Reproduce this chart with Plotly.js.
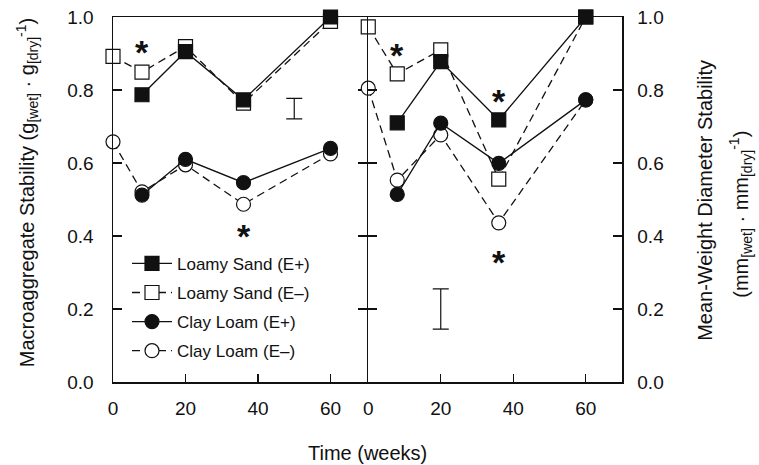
<!DOCTYPE html>
<html>
<head>
<meta charset="utf-8">
<script src="https://cdn.plot.ly/plotly-3.0.1.min.js"></script>
<style>html,body{margin:0;padding:0;background:#fff;}#chart{width:759px;height:465px;}</style>
</head>
<body>
<div id="chart"></div>
<script>
// Time points (weeks)
const weeksPlus = [8, 20, 36, 60];
const weeksMinus = [0, 8, 20, 36, 60];

// Left panel: Macroaggregate stability
const macroLoamyPlus = [0.787, 0.905, 0.773, 1.0];
const macroLoamyMinus = [0.892, 0.849, 0.919, 0.764, 0.988];
const macroClayPlus = [0.512, 0.610, 0.546, 0.640];
const macroClayMinus = [0.658, 0.521, 0.595, 0.487, 0.625];

// Right panel: Mean-weight diameter stability
const mwdLoamyPlus = [0.710, 0.878, 0.718, 1.0];
const mwdLoamyMinus = [0.973, 0.844, 0.910, 0.556, 1.0];
const mwdClayPlus = [0.514, 0.709, 0.599, 0.773];
const mwdClayMinus = [0.805, 0.553, 0.677, 0.436, 0.773];

// Error bars
const errMacroX = [50], errMacroY = [0.749], errMacroHalf = [0.028];
const errMwdX = [20], errMwdY = [0.200], errMwdHalf = [0.055];

// Significance asterisks
const starMacroX = [8, 36], starMacroY = [0.921, 0.416];
const starMwdX = [8, 36, 36], starMwdY = [0.912, 0.786, 0.345];

const seriesNames = ['Loamy Sand (E+)', 'Loamy Sand (E\u2013)', 'Clay Loam (E+)', 'Clay Loam (E\u2013)'];

const FONT = 'Liberation Sans, Arial, Helvetica, sans-serif';
const BLK = '#111';
const LW = 1.3;
const MS = 14;
const DASH = '8px,5px';

function mk(name, x, y, xa, ya, filled, symbol, dashed, show, rank, grp) {
  return {
    type: 'scatter', mode: 'lines+markers', name: name, x: x, y: y,
    xaxis: xa, yaxis: ya, showlegend: show, legendrank: rank, legendgroup: grp,
    line: {color: BLK, width: LW, dash: dashed ? DASH : 'solid'},
    marker: {symbol: symbol, size: MS, color: filled ? BLK : '#fff', line: {color: BLK, width: 1.2}},
    cliponaxis: false
  };
}

const traces = [
  mk(seriesNames[1], weeksMinus, macroLoamyMinus, 'x', 'y', false, 'square', true, true, 2, 'b'),
  mk(seriesNames[3], weeksMinus, macroClayMinus, 'x', 'y', false, 'circle', true, true, 4, 'd'),
  mk(seriesNames[0], weeksPlus, macroLoamyPlus, 'x', 'y', true, 'square', false, true, 1, 'a'),
  mk(seriesNames[2], weeksPlus, macroClayPlus, 'x', 'y', true, 'circle', false, true, 3, 'c'),
  mk(seriesNames[1], weeksMinus, mwdLoamyMinus, 'x2', 'y2', false, 'square', true, false, 2, 'b'),
  mk(seriesNames[3], weeksMinus, mwdClayMinus, 'x2', 'y2', false, 'circle', true, false, 4, 'd'),
  mk(seriesNames[0], weeksPlus, mwdLoamyPlus, 'x2', 'y2', true, 'square', false, false, 1, 'a'),
  mk(seriesNames[2], weeksPlus, mwdClayPlus, 'x2', 'y2', true, 'circle', false, false, 3, 'c'),
  {type: 'scatter', mode: 'markers', x: errMacroX, y: errMacroY, xaxis: 'x', yaxis: 'y', showlegend: false,
   marker: {size: 1, opacity: 0}, error_y: {type: 'data', array: errMacroHalf, visible: true, color: BLK, thickness: 1.2, width: 8}},
  {type: 'scatter', mode: 'markers', x: errMwdX, y: errMwdY, xaxis: 'x2', yaxis: 'y2', showlegend: false,
   marker: {size: 1, opacity: 0}, error_y: {type: 'data', array: errMwdHalf, visible: true, color: BLK, thickness: 1.2, width: 8}}
];

const STAR = {family: FONT, size: 34, color: BLK};
const annotations = [];
starMacroX.forEach((x, i) => annotations.push({x: x, y: starMacroY[i], xref: 'x', yref: 'y', text: '<b>*</b>', showarrow: false, yshift: -6, font: STAR}));
starMwdX.forEach((x, i) => annotations.push({x: x, y: starMwdY[i], xref: 'x2', yref: 'y2', text: '<b>*</b>', showarrow: false, yshift: -6, font: STAR}));

const TF = {family: FONT, size: 20, color: BLK};
annotations.push({xref: 'paper', yref: 'paper', x: -0.169, y: 0.52, xanchor: 'center', yanchor: 'middle', textangle: -90, showarrow: false,
  text: 'Macroaggregate Stability (g<sub>[wet]</sub> \u00b7 g<sub>[dry]</sub><sup>-1</sup>)', font: TF});
annotations.push({xref: 'paper', yref: 'paper', x: 1.163, y: 0.499, xanchor: 'center', yanchor: 'middle', textangle: -90, showarrow: false,
  text: 'Mean-Weight Diameter Stability', font: TF});
annotations.push({xref: 'paper', yref: 'paper', x: 1.233, y: 0.46, xanchor: 'center', yanchor: 'middle', textangle: -90, showarrow: false,
  text: '(mm<sub>[wet]</sub> \u00b7 mm<sub>[dry]</sub><sup>-1</sup>)', font: TF});
annotations.push({xref: 'paper', yref: 'paper', x: 0.5, y: -0.195, xanchor: 'center', yanchor: 'middle', showarrow: false,
  text: 'Time (weeks)', font: TF});

const xTicks = [0, 20, 40, 60];
const yTicks = [0, 0.2, 0.4, 0.6, 0.8, 1.0];
const TICKF = {family: FONT, size: 19, color: BLK};

const xBase = {range: [0, 70], tickvals: xTicks, ticks: 'inside', ticklen: 8, tickwidth: 1.3, tickcolor: BLK,
  showline: true, linecolor: BLK, linewidth: 1.5, mirror: true, showgrid: false, zeroline: false,
  ticklabelstandoff: 9, tickfont: TICKF, fixedrange: true};
const yBase = {range: [0, 1], tickvals: yTicks, tickformat: '.1f', ticks: 'inside', ticklen: 9, tickwidth: 1.3, tickcolor: BLK,
  showline: true, linecolor: BLK, linewidth: 1.5, mirror: 'ticks', showgrid: false, zeroline: false,
  tickfont: TICKF, fixedrange: true};

const half = 0.75 / 509;
const layout = {
  width: 759, height: 465,
  margin: {l: 113, r: 137, t: 17, b: 83},
  paper_bgcolor: '#fff', plot_bgcolor: '#fff',
  font: {family: FONT, color: BLK},
  xaxis: Object.assign({}, xBase, {domain: [0, 0.5 - half], anchor: 'y'}),
  xaxis2: Object.assign({}, xBase, {domain: [0.5 + half, 1], anchor: 'y2'}),
  yaxis: Object.assign({}, yBase, {domain: [0, 1], anchor: 'x', side: 'left', ticklabelstandoff: 14}),
  yaxis2: Object.assign({}, yBase, {domain: [0, 1], anchor: 'x2', side: 'right', ticklabelstandoff: 10}),
  showlegend: true,
  legend: {x: 0.0275, y: 0.373, xanchor: 'left', yanchor: 'top', bgcolor: 'rgba(0,0,0,0)', borderwidth: 0,
    font: {family: FONT, size: 17, color: BLK}, tracegroupgap: 4, itemwidth: 40},
  annotations: annotations
};

Plotly.newPlot('chart', traces, layout, {staticPlot: true, displayModeBar: false});
</script>
</body>
</html>
